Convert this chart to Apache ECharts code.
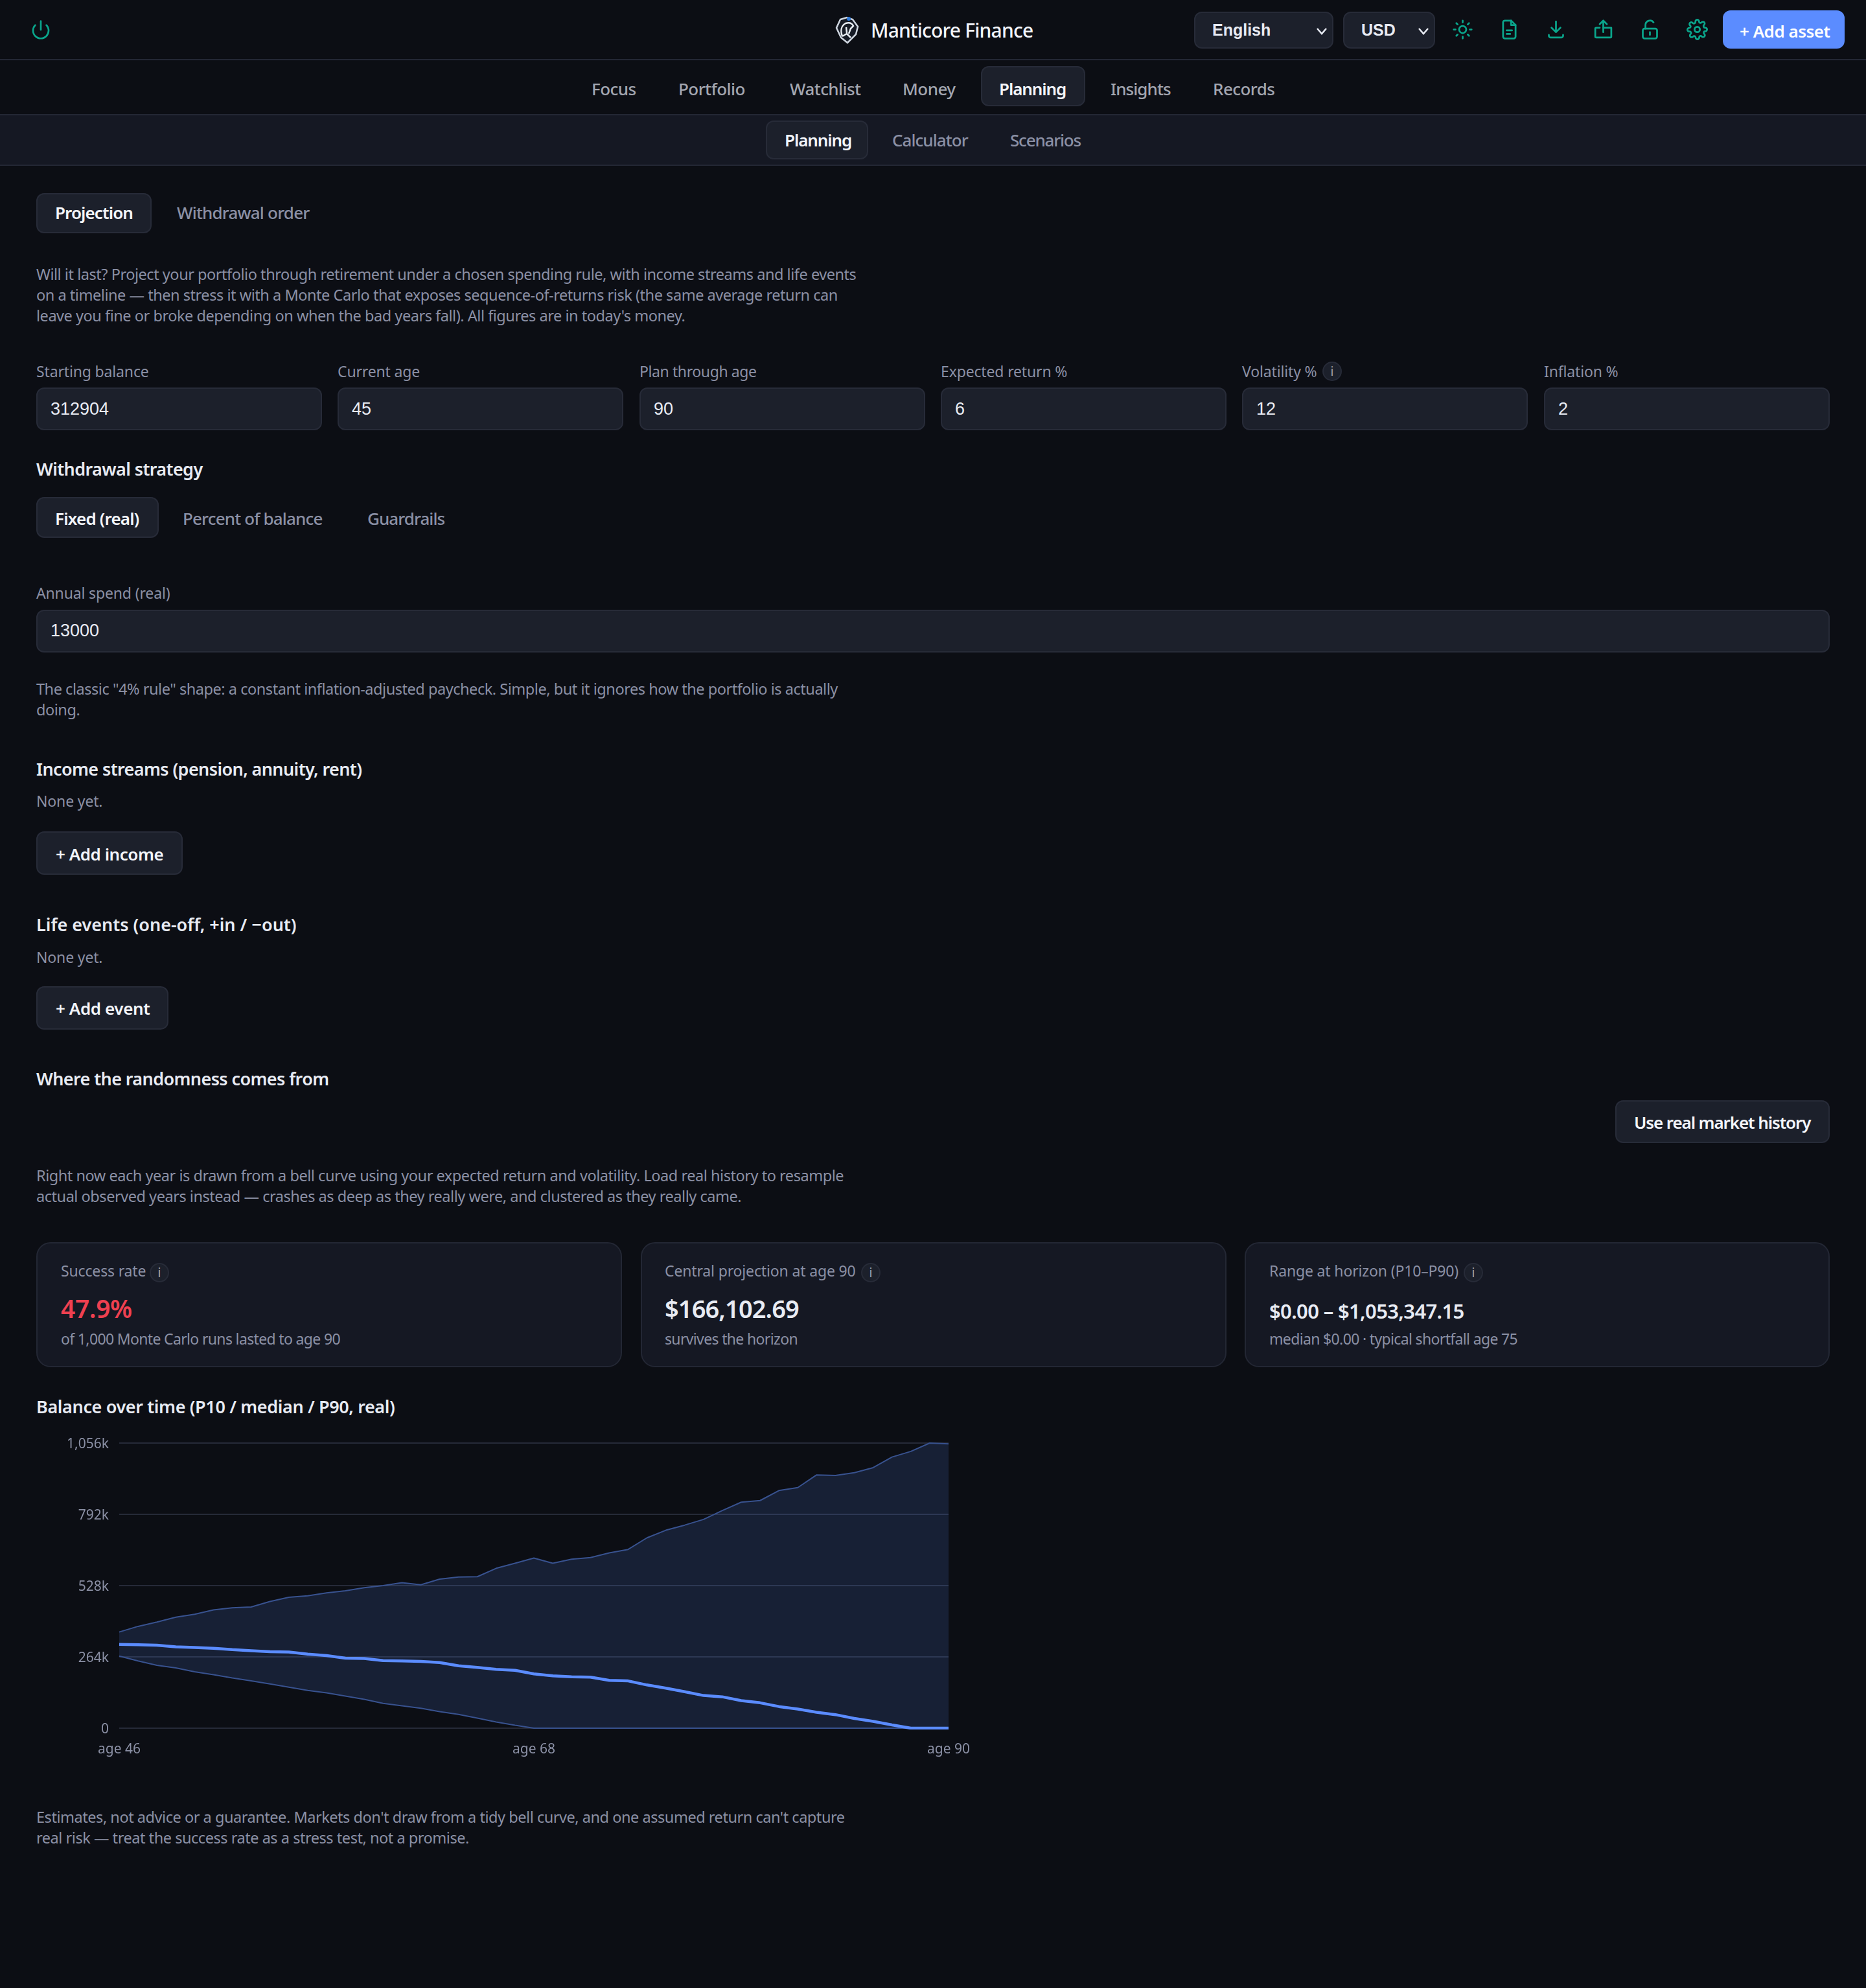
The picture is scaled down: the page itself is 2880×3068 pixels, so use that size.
<!DOCTYPE html>
<html>
<head>
<meta charset="UTF-8">
<title>Manticore Finance</title>
<style>
html,body{margin:0;padding:0;background:#0c0e14;}
body{position:relative;width:2880px;height:3068px;overflow:hidden;font-family:"Noto Sans",sans-serif;color:#e8ebf3;}
.t{position:absolute;white-space:nowrap;line-height:40px;height:40px;}
.p{position:absolute;white-space:nowrap;line-height:32px;font-size:23.5px;letter-spacing:-0.46px;color:#8b90a5;left:56px;}
.box{position:absolute;box-sizing:border-box;background:#1c202b;border:2px solid #272b38;border-radius:12px;}
.bar{position:absolute;left:0;width:2880px;}
.nav{font-size:26px;font-weight:500;letter-spacing:-0.55px;color:#a3a6b0;}
.sub{font-size:26px;font-weight:500;letter-spacing:-0.95px;color:#8b90a5;}
.on{color:#f3f5fa;font-weight:600;letter-spacing:-1.1px;}
.h{font-size:27px;font-weight:600;letter-spacing:-0.6px;left:56px;color:#e8ebf3;}
.lab{font-size:23px;letter-spacing:-0.15px;color:#8b90a5;}
.cs{letter-spacing:-0.65px;}
.val{font-family:"Liberation Sans",sans-serif;font-size:27px;color:#e8ebf3;}
.card{position:absolute;box-sizing:border-box;top:1917px;height:193px;width:904px;background:#151823;border:2px solid #232734;border-radius:22px;}
.info{position:absolute;box-sizing:border-box;width:30px;height:30px;border-radius:50%;background:#1c202b;border:2px solid #272b38;color:#a3a6b0;font-size:19px;line-height:26px;text-align:center;}
.ic{position:absolute;fill:none;stroke:#0aa58b;stroke-width:2;stroke-linecap:round;stroke-linejoin:round;}
#chart{position:absolute;left:56px;top:2200px;width:1474px;height:540px;}
</style>
</head>
<body>

<!-- top bar -->
<div class="bar" style="top:91px;height:2px;background:#232734;"></div>
<svg class="ic" style="left:47px;top:30px;" width="32" height="32" viewBox="0 0 24 24"><path d="M12 2v10"/><path d="M18.4 6.6a9 9 0 1 1-12.8 0"/></svg>
<svg style="position:absolute;left:1289px;top:24px;" width="37" height="44" viewBox="0 0 37 44"><path d="M8 6l10-3 9 3 8 11-3 12-13 13-10-8-7-15z" fill="#161b26" stroke="#cfd6e0" stroke-width="2.5"/><path d="M11 32c-3-8-2-16 5-20 6-2 10 0 12 4l-4 4-3 8M11 32l7-4 6 6M17 18l1 9" fill="none" stroke="#e8edf3" stroke-width="2.5"/><circle cx="21" cy="5" r="3" fill="#2f78d8"/></svg>
<div class="t" style="left:1344px;top:27px;font-size:30px;font-weight:500;letter-spacing:-0.8px;color:#f3f5fa;">Manticore Finance</div>

<div class="box" style="left:1843px;top:18px;width:215px;height:57px;"></div>
<div class="t val" style="left:1871px;top:26px;font-size:25px;font-weight:700;">English</div>
<svg style="position:absolute;left:2030px;top:38px;" width="20" height="20" viewBox="0 0 20 20"><path d="M3 6l7 8 7-8" fill="none" stroke="#e8ebf3" stroke-width="2.5"/></svg>
<div class="box" style="left:2073px;top:18px;width:142px;height:57px;"></div>
<div class="t val" style="left:2101px;top:26px;font-size:25px;font-weight:700;">USD</div>
<svg style="position:absolute;left:2187px;top:38px;" width="20" height="20" viewBox="0 0 20 20"><path d="M3 6l7 8 7-8" fill="none" stroke="#e8ebf3" stroke-width="2.5"/></svg>

<svg class="ic" style="left:2241px;top:29px;" width="33" height="33" viewBox="0 0 24 24"><circle cx="12" cy="12" r="4"/><path d="M12 2v2M12 20v2M4.9 4.9l1.4 1.4M17.7 17.7l1.4 1.4M2 12h2M20 12h2M4.9 19.1l1.4-1.4M17.7 6.3l1.4-1.4"/></svg>
<svg class="ic" style="left:2313px;top:29px;" width="33" height="33" viewBox="0 0 24 24"><path d="M14 2H7a2 2 0 0 0-2 2v16a2 2 0 0 0 2 2h10a2 2 0 0 0 2-2V7z"/><path d="M14 2v5h5M9 13h6M9 17h4"/></svg>
<svg class="ic" style="left:2385px;top:29px;" width="33" height="33" viewBox="0 0 24 24"><path d="M20 18v1a2 2 0 0 1-2 2H6a2 2 0 0 1-2-2v-1"/><path d="M7 10l5 5 5-5M12 15V3"/></svg>
<svg class="ic" style="left:2458px;top:29px;" width="33" height="33" viewBox="0 0 24 24"><path d="M8 10H4a1 1 0 0 0-1 1v9a1 1 0 0 0 1 1h16a1 1 0 0 0 1-1V10h-9"/><path d="M16 6l-4-4-4 4M12 2v13"/></svg>
<svg class="ic" style="left:2530px;top:29px;" width="33" height="33" viewBox="0 0 24 24"><rect x="4" y="11" width="16" height="11" rx="2"/><path d="M7 11V7a5 5 0 0 1 9-3"/><path d="M12 15v3"/></svg>
<svg class="ic" style="left:2603px;top:29px;" width="33" height="33" viewBox="0 0 24 24"><circle cx="12" cy="12" r="3"/><path d="M19.4 15a1.6 1.6 0 0 0 .3 1.8l.1.1a2 2 0 1 1-2.8 2.8l-.1-.1a1.6 1.6 0 0 0-2.7 1.1V21a2 2 0 1 1-4 0v-.1a1.6 1.6 0 0 0-2.7-1.1l-.1.1a2 2 0 1 1-2.8-2.8l.1-.1a1.6 1.6 0 0 0-1.1-2.7H3a2 2 0 1 1 0-4h.1a1.6 1.6 0 0 0 1.1-2.7l-.1-.1a2 2 0 1 1 2.8-2.8l.1.1a1.6 1.6 0 0 0 1.8.3H9a1.6 1.6 0 0 0 1-1.5V3a2 2 0 1 1 4 0v.1a1.6 1.6 0 0 0 2.7 1.1l.1-.1a2 2 0 1 1 2.8 2.8l-.1.1a1.6 1.6 0 0 0-.3 1.8V9a1.6 1.6 0 0 0 1.5 1H21a2 2 0 1 1 0 4h-.1a1.6 1.6 0 0 0-1.5 1z"/></svg>

<div class="box" style="left:2659px;top:16px;width:188px;height:59px;background:#5b8cff;border-color:#5b8cff;"></div>
<div class="t" style="left:2685px;top:28px;font-size:26px;font-weight:600;letter-spacing:-0.5px;color:#fff;">+ Add asset</div>

<!-- main nav -->
<div class="bar" style="top:176px;height:2px;background:#232734;"></div>
<div class="box" style="left:1514px;top:102px;width:161px;height:62px;"></div>
<div class="t nav" style="left:913px;top:117px;">Focus</div>
<div class="t nav" style="left:1047px;top:117px;">Portfolio</div>
<div class="t nav" style="left:1219px;top:117px;">Watchlist</div>
<div class="t nav" style="left:1393px;top:117px;">Money</div>
<div class="t nav on" style="left:1542px;top:117px;">Planning</div>
<div class="t nav" style="left:1714px;top:117px;letter-spacing:-0.95px;">Insights</div>
<div class="t nav" style="left:1872px;top:117px;">Records</div>

<!-- sub nav -->
<div class="bar" style="top:178px;height:76px;background:#151823;"></div>
<div class="bar" style="top:254px;height:2px;background:#232734;"></div>
<div class="box" style="left:1182px;top:186px;width:158px;height:60px;"></div>
<div class="t sub on" style="left:1211px;top:196px;">Planning</div>
<div class="t sub" style="left:1377px;top:196px;">Calculator</div>
<div class="t sub" style="left:1559px;top:196px;letter-spacing:-1.2px;">Scenarios</div>

<!-- projection tabs -->
<div class="box" style="left:56px;top:298px;width:178px;height:62px;"></div>
<div class="t sub on" style="left:85px;top:308px;letter-spacing:-0.9px;">Projection</div>
<div class="t sub" style="left:273px;top:308px;letter-spacing:-0.8px;">Withdrawal order</div>

<div class="p" style="top:407px;">Will it last? Project your portfolio through retirement under a chosen spending rule, with income streams and life events<br>on a timeline — then stress it with a Monte Carlo that exposes sequence-of-returns risk (the same average return can<br>leave you fine or broke depending on when the bad years fall). All figures are in today's money.</div>

<!-- inputs -->
<div class="t lab" style="left:56px;top:553px;">Starting balance</div>
<div class="t lab" style="left:521px;top:553px;">Current age</div>
<div class="t lab" style="left:987px;top:553px;letter-spacing:-0.4px;">Plan through age</div>
<div class="t lab" style="left:1452px;top:553px;">Expected return %</div>
<div class="t lab" style="left:1917px;top:553px;">Volatility %</div>
<div class="info" style="left:2041px;top:558px;">i</div>
<div class="t lab" style="left:2383px;top:553px;">Inflation %</div>
<div class="box" style="left:56px;top:598px;width:441px;height:66px;"></div>
<div class="box" style="left:521px;top:598px;width:441px;height:66px;"></div>
<div class="box" style="left:987px;top:598px;width:441px;height:66px;"></div>
<div class="box" style="left:1452px;top:598px;width:441px;height:66px;"></div>
<div class="box" style="left:1917px;top:598px;width:441px;height:66px;"></div>
<div class="box" style="left:2383px;top:598px;width:441px;height:66px;"></div>
<div class="t val" style="left:78px;top:611px;">312904</div>
<div class="t val" style="left:543px;top:611px;">45</div>
<div class="t val" style="left:1009px;top:611px;">90</div>
<div class="t val" style="left:1474px;top:611px;">6</div>
<div class="t val" style="left:1939px;top:611px;">12</div>
<div class="t val" style="left:2405px;top:611px;">2</div>

<!-- withdrawal strategy -->
<div class="t h" style="top:704px;">Withdrawal strategy</div>
<div class="box" style="left:56px;top:767px;width:189px;height:63px;"></div>
<div class="t sub on" style="left:85px;top:780px;letter-spacing:-0.8px;">Fixed (real)</div>
<div class="t sub" style="left:282px;top:780px;letter-spacing:-0.85px;">Percent of balance</div>
<div class="t sub" style="left:567px;top:780px;">Guardrails</div>
<div class="t lab" style="left:56px;top:895px;">Annual spend (real)</div>
<div class="box" style="left:56px;top:941px;width:2768px;height:66px;"></div>
<div class="t val" style="left:78px;top:953px;">13000</div>
<div class="p" style="top:1047px;">The classic "4% rule" shape: a constant inflation-adjusted paycheck. Simple, but it ignores how the portfolio is actually<br>doing.</div>

<!-- income + events -->
<div class="t h" style="top:1167px;">Income streams (pension, annuity, rent)</div>
<div class="t lab" style="left:56px;top:1216px;">None yet.</div>
<div class="box" style="left:56px;top:1283px;width:226px;height:67px;"></div>
<div class="t sub on" style="left:86px;top:1298px;letter-spacing:-0.45px;">+ Add income</div>
<div class="t h" style="top:1407px;letter-spacing:0;">Life events (one-off, +in / −out)</div>
<div class="t lab" style="left:56px;top:1457px;">None yet.</div>
<div class="box" style="left:56px;top:1522px;width:204px;height:67px;"></div>
<div class="t sub on" style="left:86px;top:1536px;letter-spacing:-0.4px;">+ Add event</div>

<!-- randomness -->
<div class="t h" style="top:1645px;">Where the randomness comes from</div>
<div class="box" style="left:2493px;top:1698px;width:331px;height:66px;"></div>
<div class="t sub on" style="left:2522px;top:1712px;letter-spacing:-1.1px;">Use real market history</div>
<div class="p" style="top:1798px;">Right now each year is drawn from a bell curve using your expected return and volatility. Load real history to resample<br>actual observed years instead — crashes as deep as they really were, and clustered as they really came.</div>

<!-- stat cards -->
<div class="card" style="left:56px;"></div>
<div class="card" style="left:989px;"></div>
<div class="card" style="left:1921px;width:903px;"></div>
<div class="t lab" style="left:94px;top:1941px;">Success rate</div>
<div class="info" style="left:231px;top:1949px;">i</div>
<div class="t" style="left:94px;top:1999px;font-size:39px;font-weight:600;letter-spacing:-0.4px;color:#ef4050;">47.9%</div>
<div class="t lab cs" style="left:94px;top:2046px;">of 1,000 Monte Carlo runs lasted to age 90</div>
<div class="t lab" style="left:1026px;top:1941px;">Central projection at age 90</div>
<div class="info" style="left:1329px;top:1949px;">i</div>
<div class="t" style="left:1026px;top:1999px;font-size:38px;font-weight:600;letter-spacing:-0.9px;color:#e8ebf3;">$166,102.69</div>
<div class="t lab cs" style="left:1026px;top:2046px;">survives the horizon</div>
<div class="t lab" style="left:1959px;top:1941px;">Range at horizon (P10–P90)</div>
<div class="info" style="left:2259px;top:1949px;">i</div>
<div class="t" style="left:1959px;top:2003px;font-size:31px;font-weight:600;letter-spacing:-0.65px;color:#e8ebf3;">$0.00 – $1,053,347.15</div>
<div class="t lab cs" style="left:1959px;top:2046px;">median $0.00 · typical shortfall age 75</div>

<!-- chart -->
<div class="t h" style="top:2151px;letter-spacing:-0.37px;">Balance over time (P10 / median / P90, real)</div>
<div id="chart"></div>

<div class="p" style="top:2788px;">Estimates, not advice or a guarantee. Markets don't draw from a tidy bell curve, and one assumed return can't capture<br>real risk — treat the success rate as a stress test, not a promise.</div>

<script src="https://cdn.jsdelivr.net/npm/echarts@6/dist/echarts.min.js"></script>
<script type="text/javascript">
// values in thousands
var ages = [46,47,48,49,50,51,52,53,54,55,56,57,58,59,60,61,62,63,64,65,66,67,68,69,70,71,72,73,74,75,76,77,78,79,80,81,82,83,84,85,86,87,88,89,90];
var p90 = [356,377,393,411,422,438,446,449,469,485,490,501,509,520,528,539,531,552,560,561,592,611,630,611,626,632,649,662,705,733,752,773,806,837,843,880,891,938,936,946,965,1004,1025,1056,1053];
var median = [310,309,307,301,299,296,291,287,283,282,274,269,259,258,250,249,247,243,231,225,218,214,201,194,190,189,177,175,160,148,135,121,116,102,94,80,71,59,50,36,25,12,0,0,0];
var p10 = [267,249,233,223,209,198,186,175,164,152,140,131,119,107,92,83,74,61,51,37,23,11,0,0,0,0,0,0,0,0,0,0,0,0,0,0,0,0,0,0,0,0,0,0,0];
var yTicks = [0,264,528,792,1056];
var xLabelAges = [46,68,90];

var bandSize = p90.map(function (v, i) { return v - p10[i]; });
var muted = '#8b90a5';

var chart = echarts.init(document.getElementById('chart'));
chart.setOption({
    animation: false,
    backgroundColor: 'transparent',
    grid: {left: 128, top: 27, width: 1280, height: 440},
    xAxis: {
        type: 'category',
        boundaryGap: false,
        data: ages,
        axisLine: {show: false},
        axisTick: {show: false},
        splitLine: {show: false},
        axisLabel: {
            color: muted,
            fontSize: 21,
            fontFamily: 'Noto Sans',
            margin: 23,
            interval: function (i, v) { return xLabelAges.indexOf(Number(v)) >= 0; },
            formatter: function (v) { return 'age ' + v; }
        }
    },
    yAxis: {
        type: 'value',
        min: yTicks[0],
        max: yTicks[yTicks.length - 1],
        interval: yTicks[1],
        axisLine: {show: false},
        axisTick: {show: false},
        splitLine: {lineStyle: {color: '#262a38', width: 2}},
        axisLabel: {
            margin: 16,
            formatter: function (v) { return '{v|' + v.toLocaleString('en-US') + (v ? 'k' : '') + '}'; },
            rich: {v: {color: muted, fontSize: 21, fontFamily: 'Noto Sans', padding: [4, 0, 0, 0]}}
        }
    },
    series: [
        {name: 'base', type: 'line', stack: 'band', data: p10, showSymbol: false, silent: true, lineStyle: {opacity: 0}},
        {name: 'band', type: 'line', stack: 'band', data: bandSize, showSymbol: false, silent: true, lineStyle: {opacity: 0},
            areaStyle: {color: 'rgba(91,140,255,0.14)', opacity: 1}},
        {name: 'P90', type: 'line', data: p90, showSymbol: false, silent: true, lineStyle: {color: '#38528f', width: 2}},
        {name: 'P10', type: 'line', data: p10, showSymbol: false, silent: true, lineStyle: {color: '#38528f', width: 2}},
        {name: 'Median', type: 'line', data: median, showSymbol: false, silent: true, lineStyle: {color: '#5b8cff', width: 4.5}}
    ]
});
</script>
</body>
</html>
